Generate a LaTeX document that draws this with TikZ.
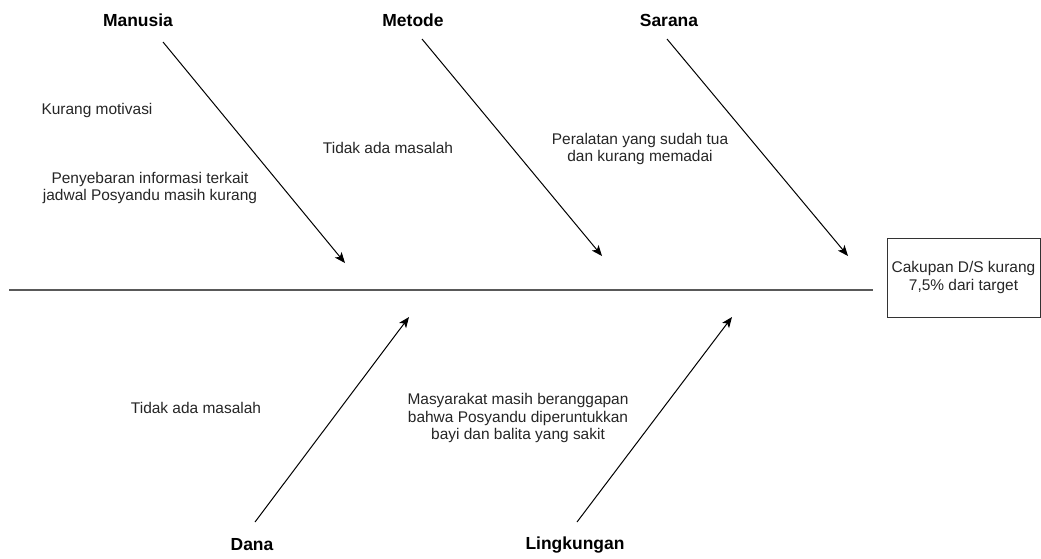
\documentclass[tikz,border=0pt]{standalone}
\usepackage{fontspec}
\setmainfont{Liberation Sans}
\usetikzlibrary{arrows.meta}
\begin{document}
\begin{tikzpicture}[x=0.75pt,y=-0.75pt,
  cause/.style={font=\fontsize{11.6}{12.8}\selectfont, align=center, inner sep=0pt, text=black!85},
  head/.style={font=\fontsize{13.1}{15}\selectfont\bfseries, inner sep=0pt},
  bone/.style={draw=black, line width=0.75pt, -{Stealth[length=8pt,width=6.5pt,inset=2pt]}},
  spine/.style={draw=black!65, line width=1.5pt},
  effect/.style={draw=black!80, line width=0.75pt, minimum width=153*0.75pt, minimum height=79*0.75pt, inner sep=0pt, align=center, font=\fontsize{11.6}{12.8}\selectfont, text=black!85}]
\useasboundingbox (0,0) rectangle (1041,558);
\fill[white] (0,0) rectangle (1041,558);

% heads
\node[head] (manusia) at (138,20) {Manusia};
\node[head] (metode) at (413,20) {Metode};
\node[head] (sarana) at (669,20) {Sarana};
\node[head] (dana) at (252,545) {Dana};
\node[head] (lingkungan) at (575,545) {Lingkungan};

% effect box
\node[effect] (effect) at (963.5,277.5) {Cakupan D/S kurang\\7,5\% dari target};

% spine
\coordinate (s0) at (9,290);
\coordinate (s1) at (873,290);
\draw[spine] (s0) -- (s1);

% bone coordinates
\coordinate (m0) at (163,42);  \coordinate (m1) at (345,263);
\coordinate (t0) at (422,39);  \coordinate (t1) at (602,256);
\coordinate (r0) at (667,39);  \coordinate (r1) at (848,256);
\coordinate (d0) at (255,522); \coordinate (d1) at (409,317);
\coordinate (l0) at (577,522); \coordinate (l1) at (732,317);

\draw[bone] (m0) -- (m1);
\draw[bone] (t0) -- (t1);
\draw[bone] (r0) -- (r1);
\draw[bone] (d0) -- (d1);
\draw[bone] (l0) -- (l1);

% causes
\node[cause] (c1) at (97,110) {Kurang motivasi};
\node[cause] (c2) at (150,188) {Penyebaran informasi terkait\\jadwal Posyandu masih kurang};
\node[cause] (c3) at (388,148) {Tidak ada masalah};
\node[cause] (c4) at (640,149) {Peralatan yang sudah tua\\dan kurang memadai};
\node[cause] (c5) at (196,408) {Tidak ada masalah};
\node[cause] (c6) at (518,418) {Masyarakat masih beranggapan\\bahwa Posyandu diperuntukkan\\bayi dan balita yang sakit};
\end{tikzpicture}
\end{document}
